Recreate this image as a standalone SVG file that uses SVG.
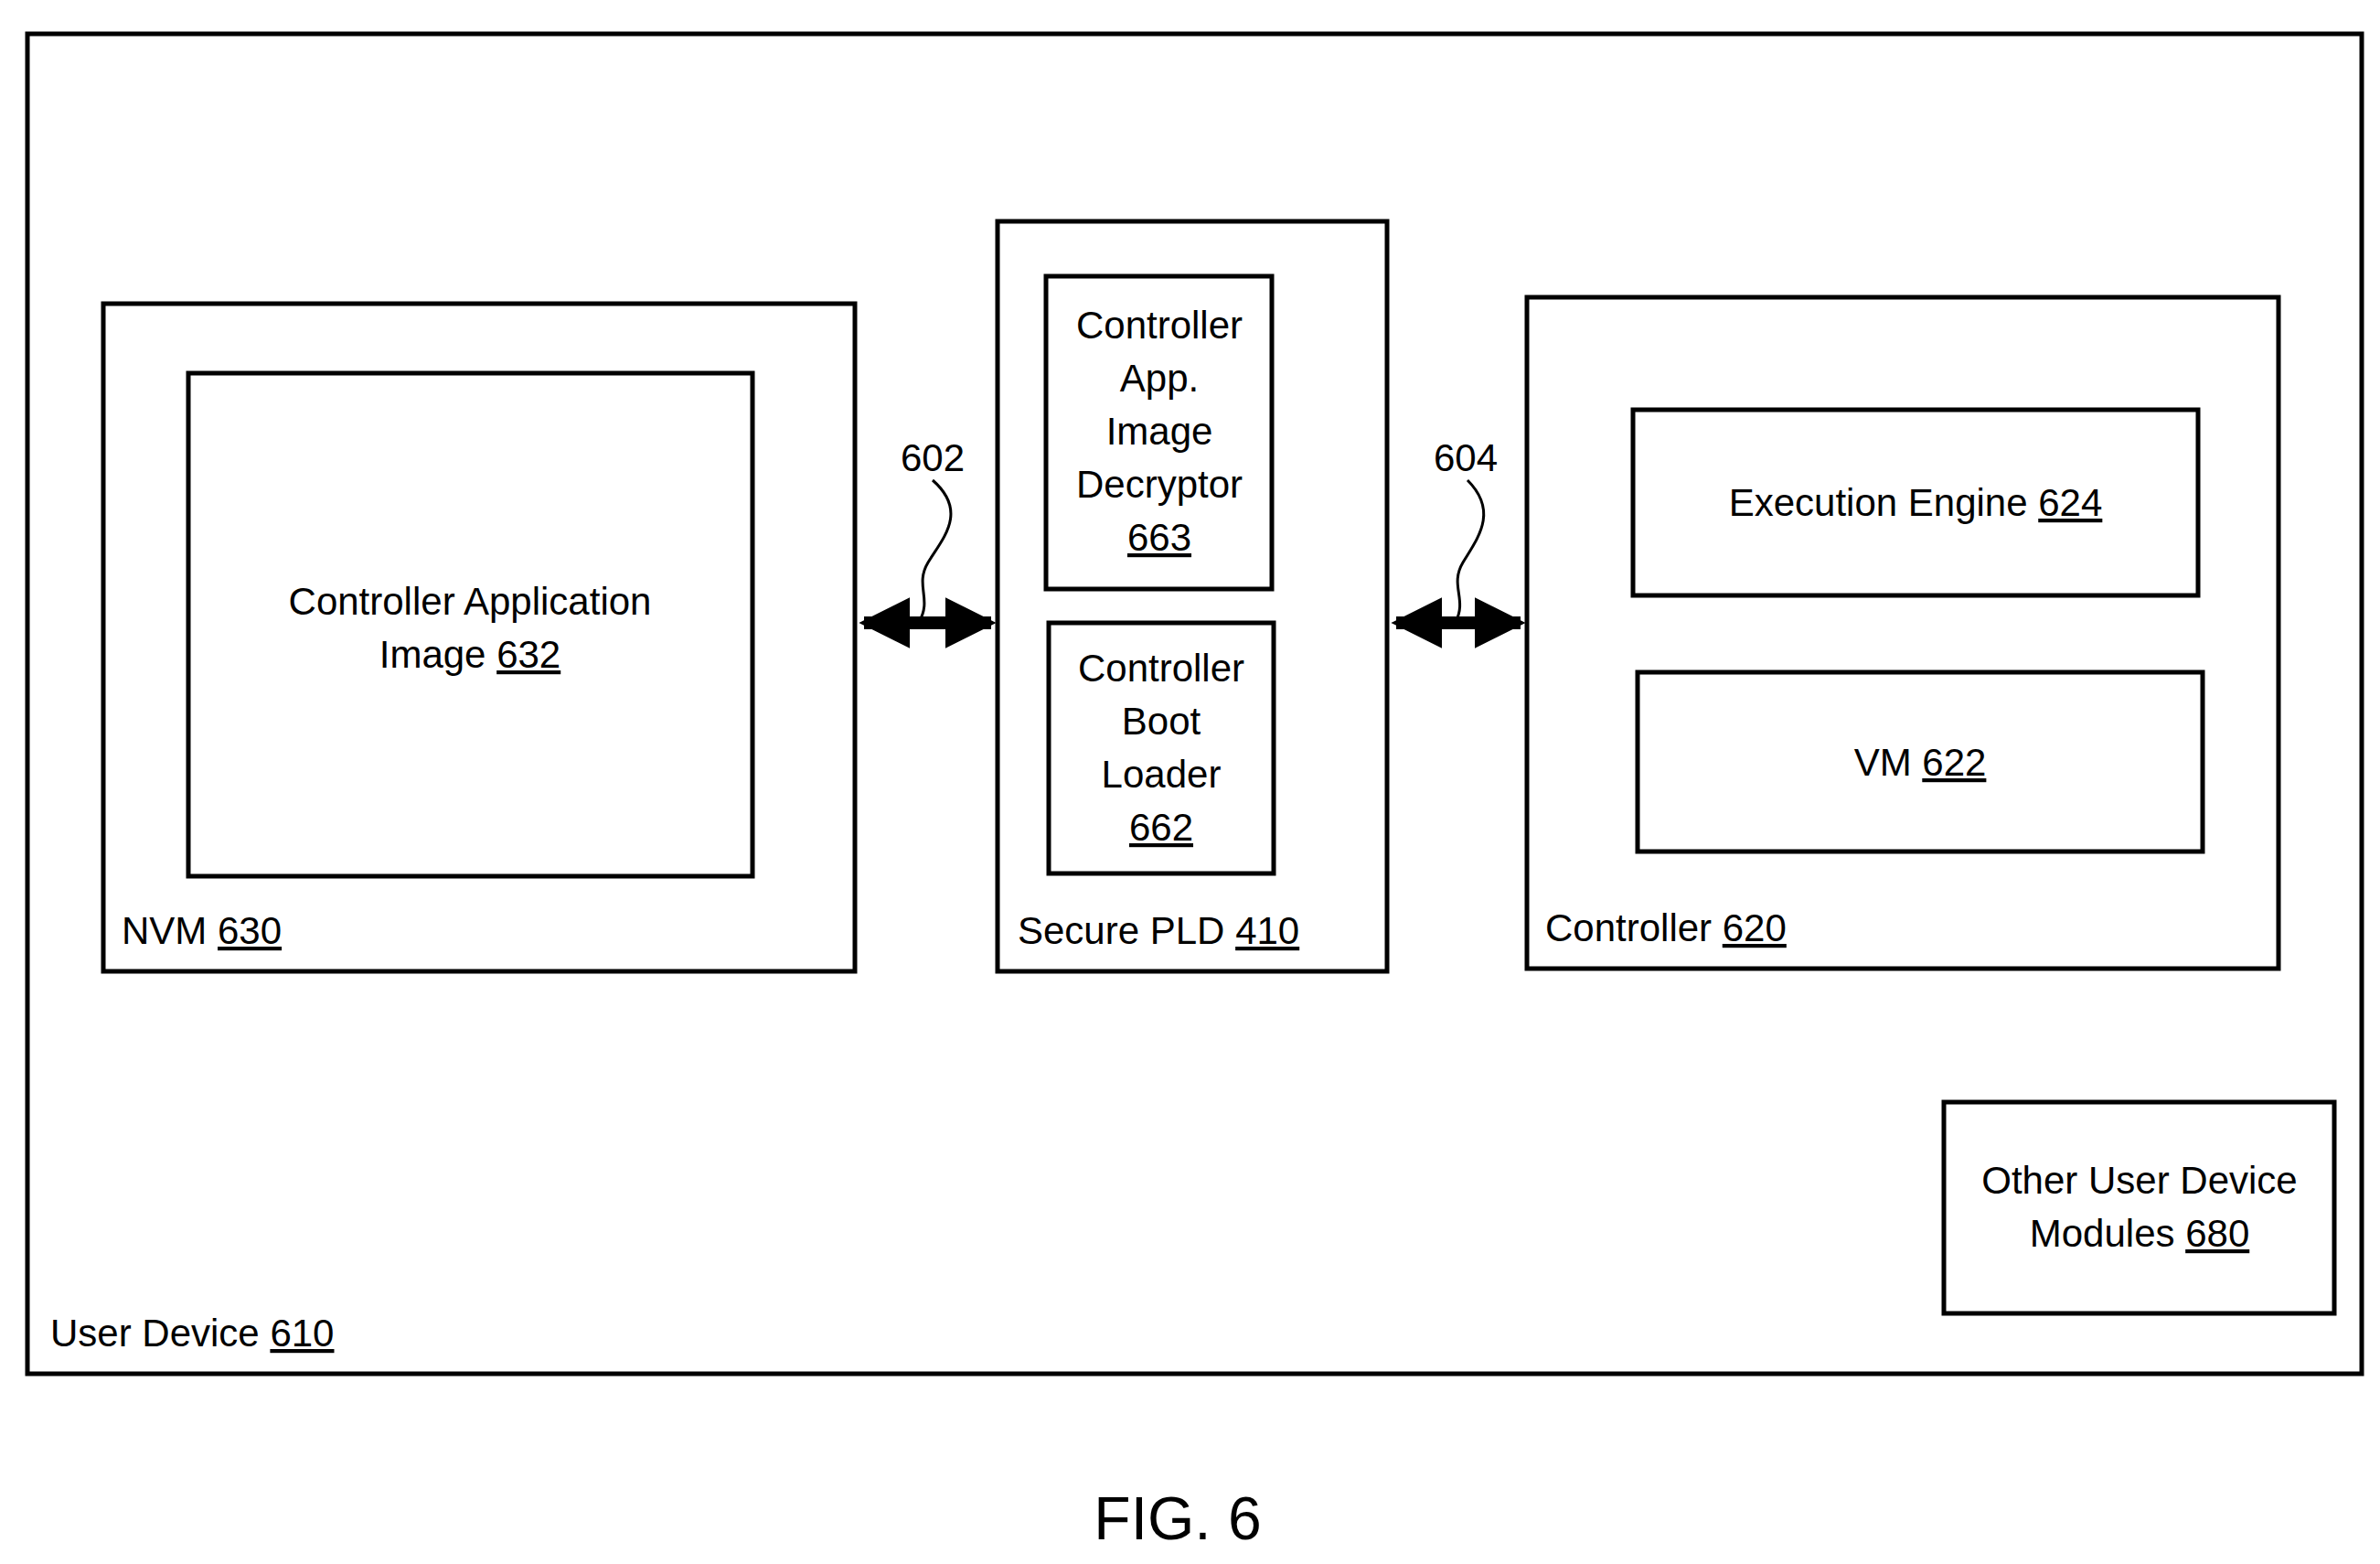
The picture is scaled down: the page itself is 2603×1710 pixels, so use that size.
<svg xmlns="http://www.w3.org/2000/svg" width="2603" height="1710" viewBox="0 0 2603 1710">
<style>
.b{fill:none;stroke:#000;stroke-width:5}
text{font-family:"Liberation Sans",Arial,sans-serif;font-size:42px;fill:#000}
.c{text-anchor:middle}
.l{fill:none;stroke:#000;stroke-width:3}
</style>
<defs>
<marker id="ah" viewBox="0 0 10 10" refX="9" refY="5" markerWidth="4" markerHeight="4" orient="auto-start-reverse"><path d="M0,0L10,5L0,10z" fill="#000"/></marker>
</defs>
<rect width="2603" height="1710" fill="#fff"/>
<g id="user-device"><rect class="b" x="30" y="37" width="2553" height="1465"/><text x="55" y="1472">User Device <tspan text-decoration="underline">610</tspan></text></g>
<g id="nvm"><rect class="b" x="113" y="332" width="822" height="730"/><text x="133" y="1032">NVM <tspan text-decoration="underline">630</tspan></text></g>
<g id="app-image"><rect class="b" x="206" y="408" width="617" height="550"/><text class="c" x="514" y="672">Controller Application</text><text class="c" x="514" y="730">Image <tspan text-decoration="underline">632</tspan></text></g>
<g id="pld"><rect class="b" x="1091" y="242" width="426" height="820"/><text x="1113" y="1032">Secure PLD <tspan text-decoration="underline">410</tspan></text></g>
<g id="decryptor"><rect class="b" x="1144" y="302" width="247" height="342"/><text class="c" x="1268" y="370">Controller</text><text class="c" x="1268" y="428">App.</text><text class="c" x="1268" y="486">Image</text><text class="c" x="1268" y="544">Decryptor</text><text class="c" x="1268" y="602" text-decoration="underline">663</text></g>
<g id="bootloader"><rect class="b" x="1147" y="681" width="246" height="274"/><text class="c" x="1270" y="745">Controller</text><text class="c" x="1270" y="803">Boot</text><text class="c" x="1270" y="861">Loader</text><text class="c" x="1270" y="919" text-decoration="underline">662</text></g>
<g id="controller"><rect class="b" x="1670" y="325" width="822" height="734"/><text x="1690" y="1029">Controller <tspan text-decoration="underline">620</tspan></text></g>
<g id="exec"><rect class="b" x="1786" y="448" width="618" height="203"/><text class="c" x="2095" y="564">Execution Engine <tspan text-decoration="underline">624</tspan></text></g>
<g id="vm"><rect class="b" x="1791" y="735" width="618" height="196"/><text class="c" x="2100" y="848">VM <tspan text-decoration="underline">622</tspan></text></g>
<g id="other"><rect class="b" x="2126" y="1205" width="427" height="231"/><text class="c" x="2340" y="1305">Other User Device</text><text class="c" x="2340" y="1363">Modules <tspan text-decoration="underline">680</tspan></text></g>
<g id="connectors">
<line x1="945" y1="681" x2="1084" y2="681" stroke="#000" stroke-width="14" marker-start="url(#ah)" marker-end="url(#ah)"/>
<line x1="1527" y1="681" x2="1663" y2="681" stroke="#000" stroke-width="14" marker-start="url(#ah)" marker-end="url(#ah)"/>
<path class="l" d="M1020,525 C1060,560 1030,590 1015,615 C1000,640 1020,655 1005,680"/>
<path class="l" d="M1605,525 C1640,560 1615,590 1600,615 C1585,640 1605,655 1592,680"/>
<text class="c" x="1020" y="515">602</text>
<text class="c" x="1603" y="515">604</text>
</g>
<text class="c" x="1288" y="1683" style="font-size:66px">FIG. 6</text>
</svg>
